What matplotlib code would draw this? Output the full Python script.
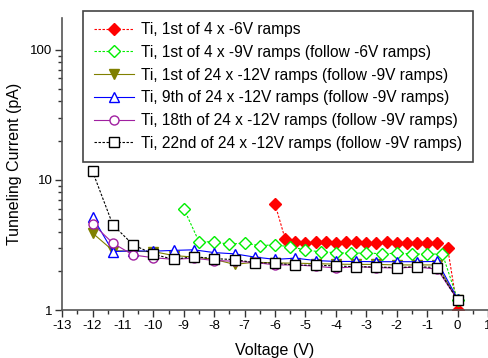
"""Tunneling current vs voltage for Ti ramps (log scale)."""

import matplotlib

matplotlib.use("Agg")

import matplotlib.pyplot as plt  # noqa: E402
import numpy as np  # noqa: E402
from matplotlib.ticker import FixedLocator, LogLocator, NullFormatter  # noqa: E402

plt.rcParams["font.family"] = ["Liberation Sans", "DejaVu Sans"]

# ---------------------------------------------------------------------------
# Data
# ---------------------------------------------------------------------------

# -6V ramp: steps of 1/3 V from -6 to 0
v_6 = [-6.0, -5.67, -5.33, -5.0, -4.67, -4.33, -4.0, -3.67, -3.33, -3.0,
       -2.67, -2.33, -2.0, -1.67, -1.33, -1.0, -0.67, -0.33, 0.0]
i_6 = [6.5, 3.52, 3.30, 3.28, 3.32, 3.30, 3.28, 3.30, 3.32, 3.29,
       3.29, 3.30, 3.29, 3.26, 3.29, 3.29, 3.26, 3.02, 1.0]

# -9V ramp: steps of 0.5 V from -9 to 0
v_9 = [-9.0, -8.5, -8.0, -7.5, -7.0, -6.5, -6.0, -5.5, -5.0, -4.5,
       -4.0, -3.5, -3.0, -2.5, -2.0, -1.5, -1.0, -0.5, 0.0]
i_9 = [6.0, 3.35, 3.33, 3.20, 3.27, 3.12, 3.17, 3.05, 2.90, 2.79,
       2.76, 2.72, 2.75, 2.70, 2.73, 2.70, 2.68, 2.70, 1.2]

# -12V ramps: steps of 2/3 V from -12 to 0
v_12 = [-12.0, -11.33, -10.67, -10.0, -9.33, -8.67, -8.0, -7.33, -6.67, -6.0,
        -5.33, -4.67, -4.0, -3.33, -2.67, -2.0, -1.33, -0.67, 0.0]
i_12_1st = [3.9, 2.86, 2.82, 2.81, 2.62, 2.55, 2.45, 2.24, 2.33, 2.30,
            2.29, 2.27, 2.25, 2.24, 2.24, 2.22, 2.22, 2.22, 1.2]
i_12_9th = [5.2, 2.81, 2.85, 2.83, 2.87, 2.90, 2.76, 2.70, 2.55, 2.45,
            2.50, 2.40, 2.36, 2.36, 2.35, 2.35, 2.35, 2.36, 1.22]
i_12_18th = [4.6, 3.26, 2.65, 2.52, 2.45, 2.50, 2.40, 2.37, 2.32, 2.22,
             2.22, 2.17, 2.10, 2.15, 2.12, 2.10, 2.14, 2.06, 1.2]
i_12_22nd = [11.6, 4.5, 3.18, 2.68, 2.45, 2.57, 2.48, 2.44, 2.31, 2.29,
             2.21, 2.21, 2.18, 2.15, 2.14, 2.12, 2.15, 2.12, 1.19]

labels = [
    "Ti, 1st of 4 x -6V ramps",
    "Ti, 1st of 4 x -9V ramps (follow -6V ramps)",
    "Ti, 1st of 24 x -12V ramps (follow -9V ramps)",
    "Ti, 9th of 24 x -12V ramps (follow -9V ramps)",
    "Ti, 18th of 24 x -12V ramps (follow -9V ramps)",
    "Ti, 22nd of 24 x -12V ramps (follow -9V ramps)",
]

x_ticks = list(range(-13, 2))
y_ticks = [1, 10, 100]

# ---------------------------------------------------------------------------
# Figure
# ---------------------------------------------------------------------------

fig = plt.figure(figsize=(4.89, 3.58), dpi=100)
ax = fig.add_axes([0.127, 0.134, 0.871, 0.816])

dash = (0, (2.2, 1.4))
ax.plot(v_6, i_6, color="#ff0000", ls=dash, lw=0.8, marker="D", ms=6,
        mfc="#ff0000", mec="#ff0000", label=labels[0])
ax.plot(v_9, i_9, color="#00ee00", ls=dash, lw=0.8, marker="D", ms=6,
        mfc="white", mec="#00ee00", mew=1.0, label=labels[1])
ax.plot(v_12, i_12_1st, color="#808000", ls="-", lw=0.8, marker="v", ms=7,
        mfc="#808000", mec="#808000", label=labels[2])
ax.plot(v_12, i_12_9th, color="#0000ff", ls="-", lw=0.8, marker="^", ms=7,
        mfc="white", mec="#0000ff", mew=1.0, label=labels[3])
ax.plot(v_12, i_12_18th, color="#a020a0", ls="-", lw=0.8, marker="o", ms=6.5,
        mfc="white", mec="#a020a0", mew=1.0, label=labels[4])
ax.plot(v_12, i_12_22nd, color="black", ls=dash, lw=0.8, marker="s", ms=7,
        mfc="white", mec="black", mew=1.0, label=labels[5])

ax.set_yscale("log")
ax.set_xlim(-13, 1)
ax.set_ylim(1, 175)

ax.xaxis.set_major_locator(FixedLocator(x_ticks))
ax.xaxis.set_minor_locator(FixedLocator(np.arange(-13, 1.01, 0.5)))
ax.set_xticklabels([str(t) for t in x_ticks])
ax.yaxis.set_major_locator(FixedLocator(y_ticks))
ax.set_yticklabels([str(t) for t in y_ticks])
ax.yaxis.set_minor_locator(LogLocator(base=10, subs=np.arange(2, 10)))
ax.yaxis.set_minor_formatter(NullFormatter())

for side in ("top", "right"):
    ax.spines[side].set_visible(False)
for side in ("left", "bottom"):
    ax.spines[side].set_color("#555555")
    ax.spines[side].set_linewidth(1.2)

ax.tick_params(which="major", direction="out", length=5, width=1,
               color="#333333", labelsize=9.5, pad=2)
ax.tick_params(which="minor", direction="out", length=3, width=1,
               color="#333333")

ax.set_xlabel("Voltage (V)", fontsize=11.5, labelpad=8)
ax.set_ylabel("Tunneling Current (pA)", fontsize=11.5, labelpad=6)

leg = ax.legend(loc="upper left", bbox_to_anchor=(0.170, 0.969),
                bbox_transform=fig.transFigure, borderaxespad=0,
                fontsize=11.2, handlelength=2.6, handletextpad=0.4,
                labelspacing=0.5, borderpad=0.7, fancybox=False,
                framealpha=1, edgecolor="#444444")
leg.get_frame().set_linewidth(1.2)

fig.savefig("out.png", dpi=100)
